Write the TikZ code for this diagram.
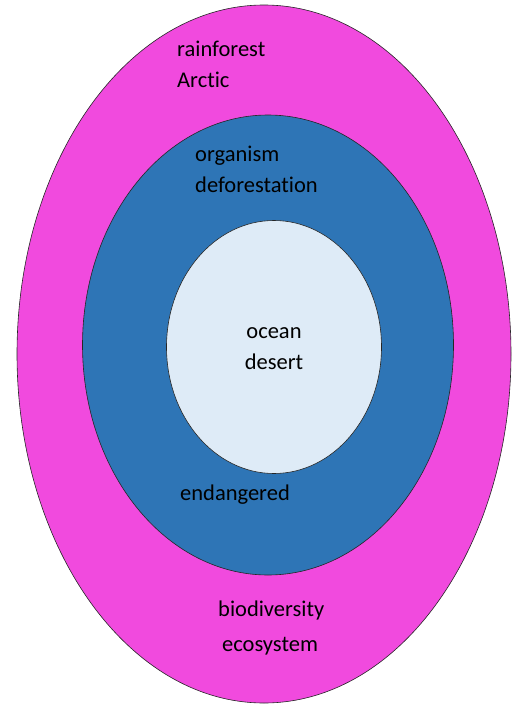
\documentclass[tikz,border=0pt]{standalone}
\usepackage{fontspec}
\setmainfont{Carlito}[Ligatures={NoCommon}]
\usetikzlibrary{shapes.geometric}
\definecolor{ringpink}{HTML}{F14ADE}
\definecolor{ringblue}{HTML}{2E75B6}
\definecolor{ringlight}{HTML}{DEEBF7}

\begin{document}
\begin{tikzpicture}[x=1pt,y=-1pt]
        \tikzstyle{ring} = [draw=black!85, line width=0.6pt, shape=ellipse, inner sep=0pt]
        \tikzstyle{word} = [anchor=west, inner sep=0pt, text=black, font=\fontsize{22.5}{27}\selectfont]
        \useasboundingbox (0,0) rectangle (513,706);
        \node[ring, fill=ringpink, minimum width=494pt, minimum height=698pt] (outer) at (264,354) {};
        \node[ring, fill=ringblue, minimum width=371pt, minimum height=460pt] (middle) at (268,345) {};
        \node[ring, fill=ringlight, minimum width=215pt, minimum height=253pt] (inner) at (274,347) {};
        \node[word] (rainforest) at (177,49) {rainforest};
        \node[word] (arctic) at (177,80) {Arctic};
        \node[word] (organism) at (195,156) {organism};
        \node[word] (deforestation) at (195,185) {deforestation};
        \node[word, anchor=center] (ocean) at (274,333) {ocean};
        \node[word, anchor=center] (desert) at (274,362) {desert};
        \node[word] (endangered) at (180,495) {endangered};
        \node[word] (biodiversity) at (218,610) {biodiversity};
        \node[word] (ecosystem) at (222,646) {ecosystem};
    \end{tikzpicture}
\end{document}
